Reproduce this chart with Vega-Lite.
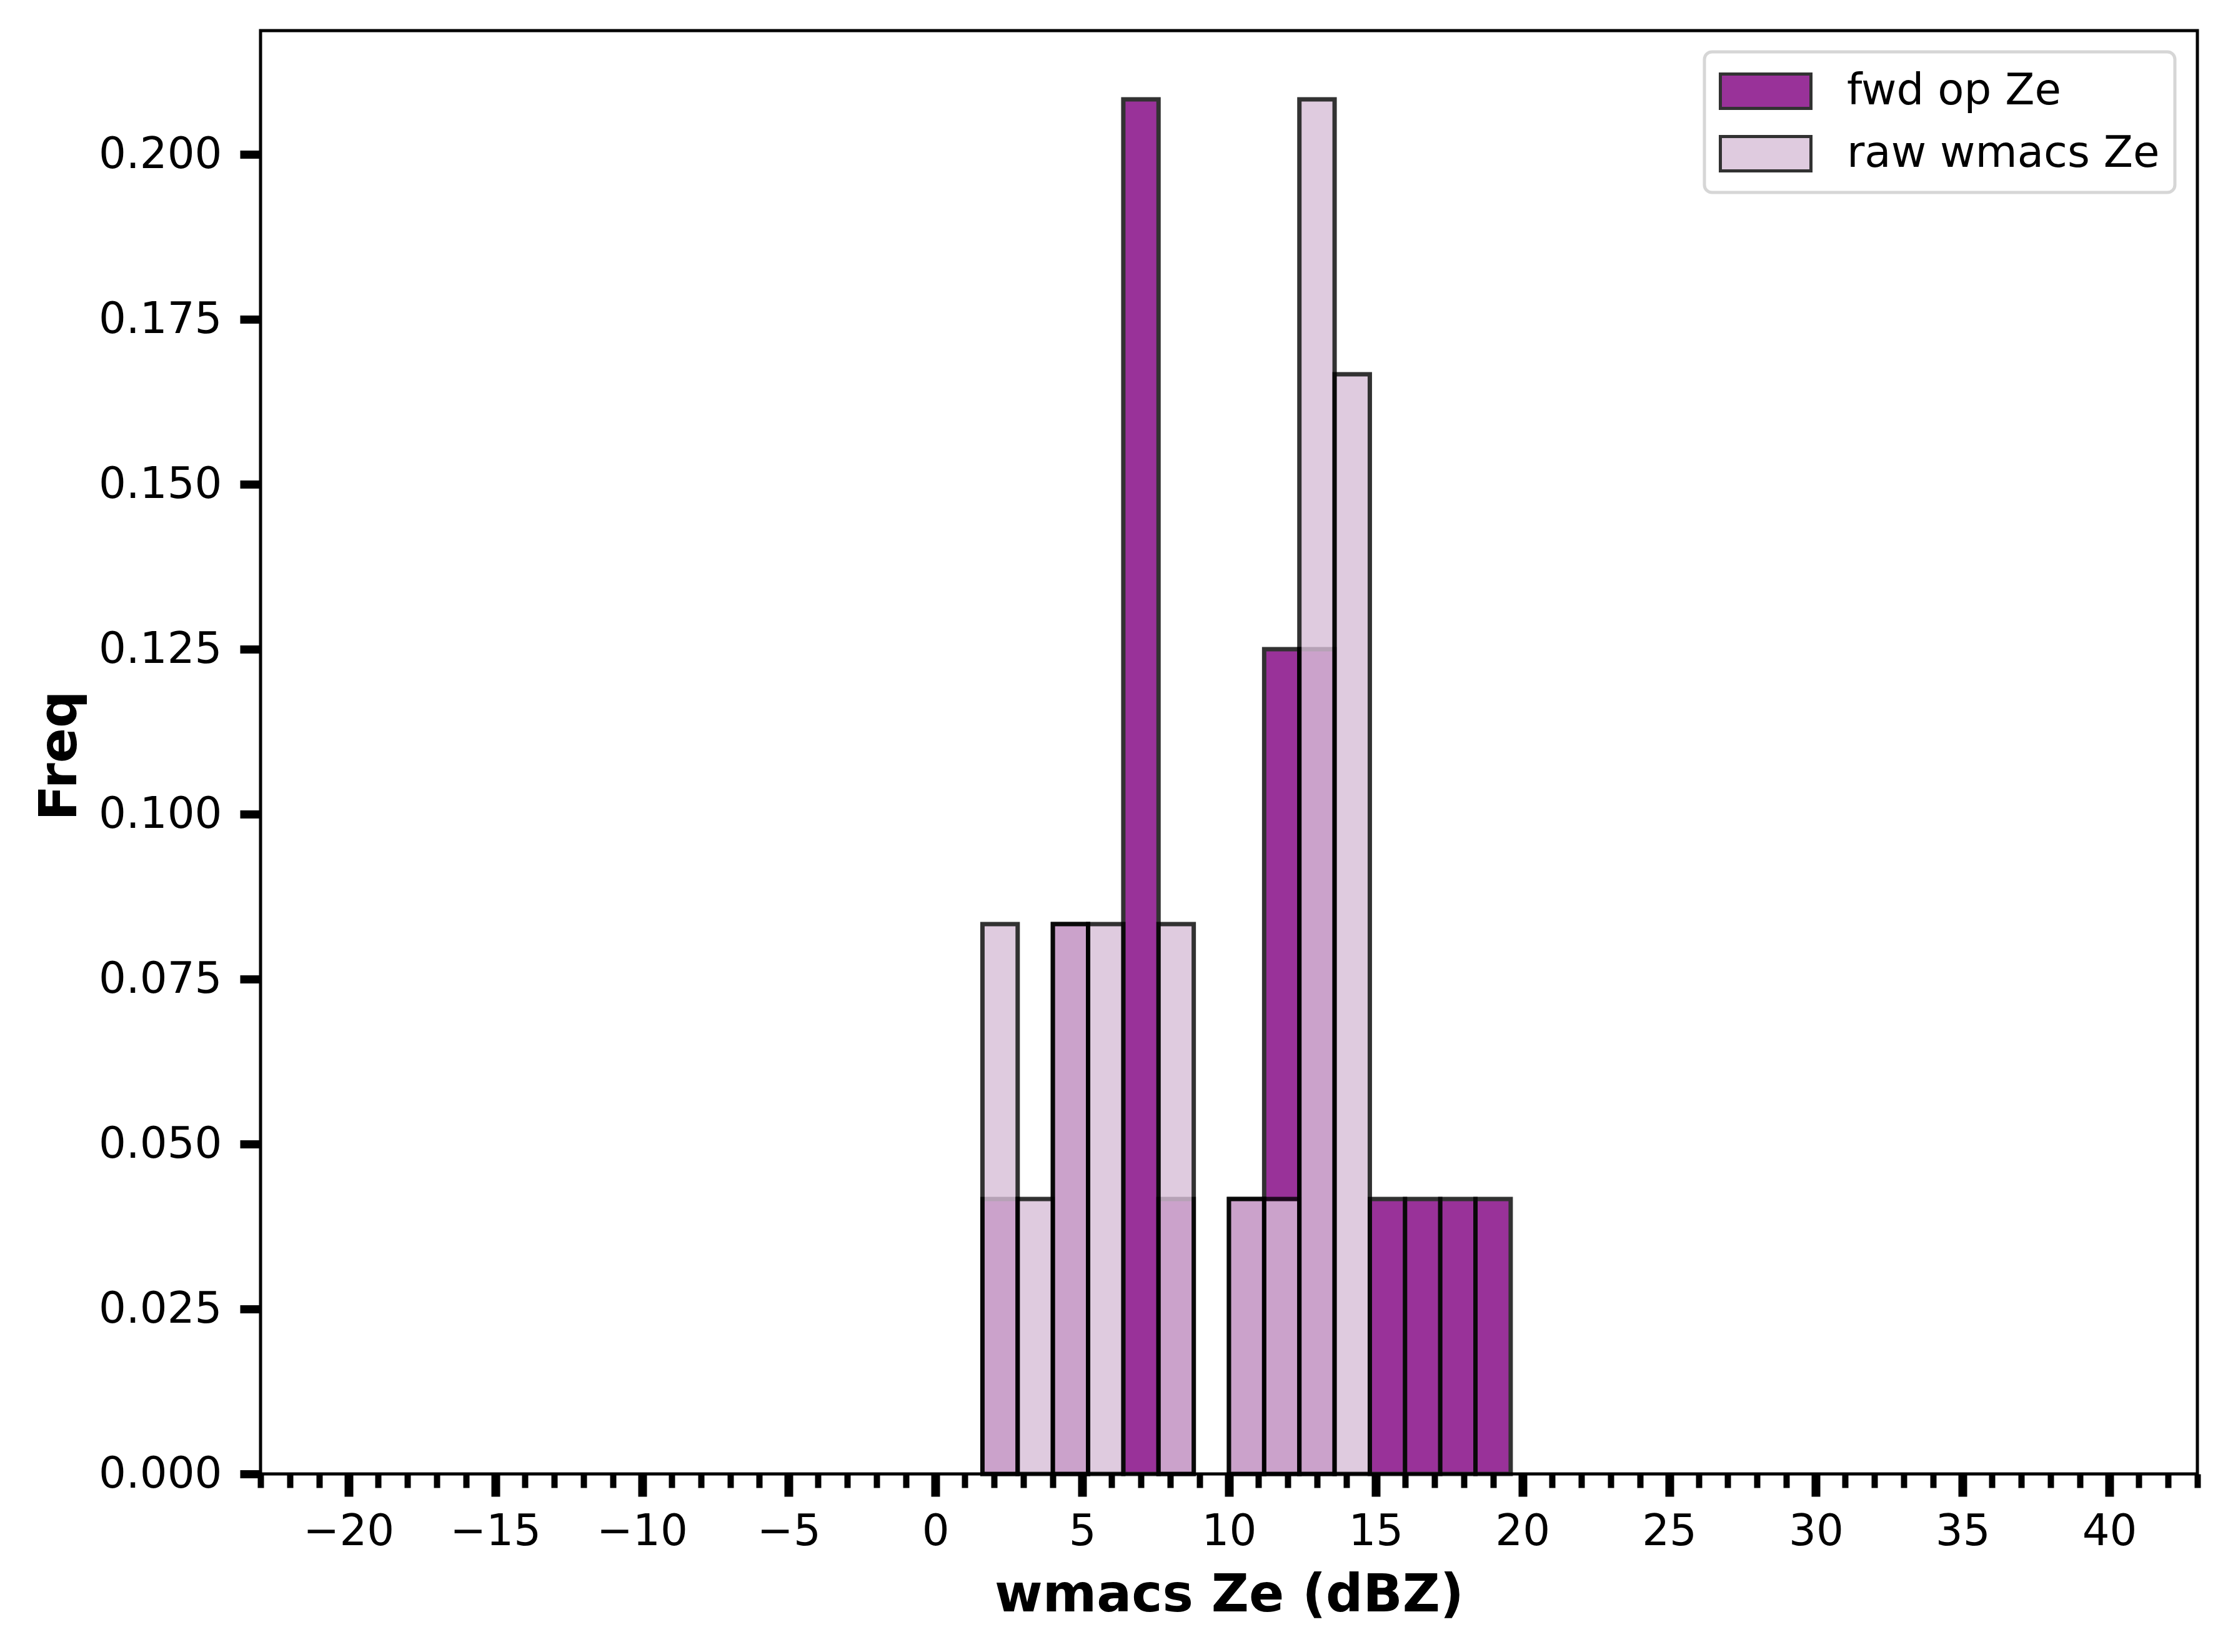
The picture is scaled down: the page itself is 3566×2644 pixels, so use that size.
{
  "$schema": "https://vega.github.io/schema/vega-lite/v6.json",
  "description": "Histogram of fwd op Ze vs raw wmacs Ze",
  "width": 3100,
  "height": 2310,
  "autosize": {"type": "none"},
  "padding": {"left": 417, "top": 49, "right": 49, "bottom": 285},
  "background": "white",
  "data": {
    "values": [
      {"series": "fwd op Ze", "bin_start": 1.6, "bin_end": 2.8, "freq": 0.041667},
      {"series": "fwd op Ze", "bin_start": 4.0, "bin_end": 5.2, "freq": 0.083333},
      {"series": "fwd op Ze", "bin_start": 6.4, "bin_end": 7.6, "freq": 0.208333},
      {"series": "fwd op Ze", "bin_start": 7.6, "bin_end": 8.8, "freq": 0.041667},
      {"series": "fwd op Ze", "bin_start": 10.0, "bin_end": 11.2, "freq": 0.041667},
      {"series": "fwd op Ze", "bin_start": 11.2, "bin_end": 12.4, "freq": 0.125},
      {"series": "fwd op Ze", "bin_start": 12.4, "bin_end": 13.6, "freq": 0.125},
      {"series": "fwd op Ze", "bin_start": 14.8, "bin_end": 16.0, "freq": 0.041667},
      {"series": "fwd op Ze", "bin_start": 16.0, "bin_end": 17.2, "freq": 0.041667},
      {"series": "fwd op Ze", "bin_start": 17.2, "bin_end": 18.4, "freq": 0.041667},
      {"series": "fwd op Ze", "bin_start": 18.4, "bin_end": 19.6, "freq": 0.041667},
      {"series": "raw wmacs Ze", "bin_start": 1.6, "bin_end": 2.8, "freq": 0.083333},
      {"series": "raw wmacs Ze", "bin_start": 2.8, "bin_end": 4.0, "freq": 0.041667},
      {"series": "raw wmacs Ze", "bin_start": 4.0, "bin_end": 5.2, "freq": 0.083333},
      {"series": "raw wmacs Ze", "bin_start": 5.2, "bin_end": 6.4, "freq": 0.083333},
      {"series": "raw wmacs Ze", "bin_start": 7.6, "bin_end": 8.8, "freq": 0.083333},
      {"series": "raw wmacs Ze", "bin_start": 10.0, "bin_end": 11.2, "freq": 0.041667},
      {"series": "raw wmacs Ze", "bin_start": 11.2, "bin_end": 12.4, "freq": 0.041667},
      {"series": "raw wmacs Ze", "bin_start": 12.4, "bin_end": 13.6, "freq": 0.208333},
      {"series": "raw wmacs Ze", "bin_start": 13.6, "bin_end": 14.8, "freq": 0.166667}
    ]
  },
  "encoding": {
    "x": {
      "field": "bin_start",
      "type": "quantitative",
      "title": "wmacs Ze (dBZ)",
      "scale": {"domain": [-23, 43], "nice": false, "zero": false},
      "axis": {
        "values": [-23, -22, -21, -20, -19, -18, -17, -16, -15, -14, -13, -12, -11, -10, -9, -8, -7, -6, -5, -4, -3, -2, -1, 0, 1, 2, 3, 4, 5, 6, 7, 8, 9, 10, 11, 12, 13, 14, 15, 16, 17, 18, 19, 20, 21, 22, 23, 24, 25, 26, 27, 28, 29, 30, 31, 32, 33, 34, 35, 36, 37, 38, 39, 40, 41, 42, 43],
        "labelExpr": "round(datum.value / 5) * 5 == datum.value ? datum.label : ''",
        "tickSize": {"condition": {"test": "round(datum.value / 5) * 5 == datum.value", "value": 36}, "value": 22},
        "tickWidth": {"condition": {"test": "round(datum.value / 5) * 5 == datum.value", "value": 14}, "value": 10},
        "labelPadding": 22,
        "titlePadding": 26
      }
    },
    "x2": {"field": "bin_end"},
    "y": {
      "field": "freq",
      "type": "quantitative",
      "title": "Freq",
      "scale": {"domain": [0, 0.21875], "nice": false},
      "axis": {
        "values": [0, 0.025, 0.05, 0.075, 0.1, 0.125, 0.15, 0.175, 0.2],
        "format": ".3f",
        "tickSize": 33,
        "tickWidth": 13,
        "labelPadding": 29,
        "titleX": -296,
        "titleY": 1160,
        "titleBaseline": "alphabetic",
        "titleAngle": 270
      }
    },
    "y2": {"datum": 0},
    "color": {
      "field": "series",
      "type": "nominal",
      "scale": {"domain": ["fwd op Ze", "raw wmacs Ze"], "range": ["purple", "thistle"]},
      "legend": {
        "title": null,
        "orient": "none",
        "legendX": 2311,
        "legendY": 34,
        "symbolType": "M-2,-0.76H2V0.76H-2Z",
        "symbolSize": 5256,
        "symbolOffset": 35,
        "symbolStrokeColor": "black",
        "symbolStrokeWidth": 5,
        "symbolOpacity": 0.8,
        "labelOffset": 91,
        "labelFontSize": 69,
        "labelFont": "DejaVu Sans",
        "labelColor": "black",
        "labelLimit": 800,
        "rowPadding": 23,
        "padding": 24,
        "strokeColor": "#d6d6d6",
        "cornerRadius": 12,
        "fillColor": "white",
        "encode": {
          "legend": {"update": {"strokeWidth": {"value": 5}}}
        }
      }
    }
  },
  "layer": [
    {
      "transform": [{"filter": "datum.series === 'fwd op Ze'"}],
      "mark": {"type": "bar", "opacity": 0.8, "stroke": "black", "strokeWidth": 7}
    },
    {
      "transform": [{"filter": "datum.series === 'raw wmacs Ze'"}],
      "mark": {"type": "bar", "opacity": 0.8, "stroke": "black", "strokeWidth": 7}
    }
  ],
  "config": {
    "font": "DejaVu Sans",
    "view": {"stroke": "black", "strokeWidth": 5},
    "axis": {
      "domain": false,
      "grid": false,
      "tickColor": "black",
      "labelColor": "black",
      "labelFont": "DejaVu Sans",
      "labelFontSize": 69,
      "labelLimit": 400,
      "titleFont": "DejaVu Sans",
      "titleFontSize": 83,
      "titleFontWeight": "bold",
      "titleColor": "black"
    }
  }
}
